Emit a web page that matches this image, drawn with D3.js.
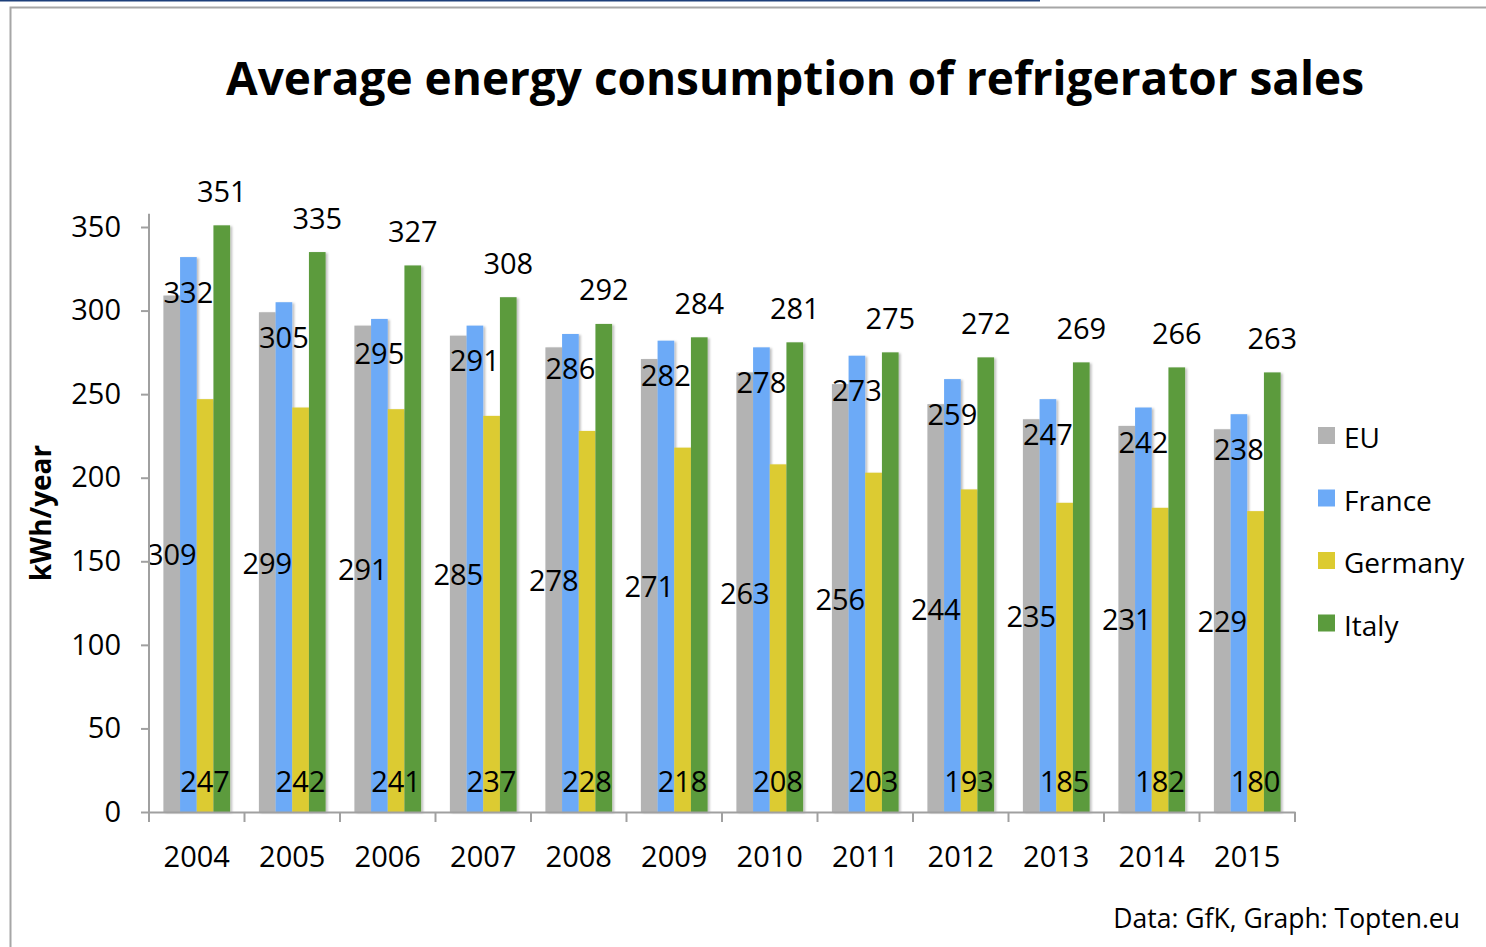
<!DOCTYPE html>
<html>
<head>
<meta charset="utf-8">
<script src="https://cdn.jsdelivr.net/npm/d3@7"></script>
<style>
  body { margin: 0; background: #fff; }
  text { font-family: "Open Sans", "Noto Sans", sans-serif; fill: #000; }
</style>
</head>
<body>
<div id="chart"></div>
<script>

// data
const years = ["2004", "2005", "2006", "2007", "2008", "2009", "2010", "2011", "2012", "2013", "2014", "2015"];
const seriesNames = ["EU", "France", "Germany", "Italy"];
const eu      = [309, 299, 291, 285, 278, 271, 263, 256, 244, 235, 231, 229];
const france  = [332, 305, 295, 291, 286, 282, 278, 273, 259, 247, 242, 238];
const germany = [247, 242, 241, 237, 228, 218, 208, 203, 193, 185, 182, 180];
const italy   = [351, 335, 327, 308, 292, 284, 281, 275, 272, 269, 266, 263];
const yTicks  = [0, 50, 100, 150, 200, 250, 300, 350];
const colors  = ["#b3b3b3", "#6caaf7", "#dccb30", "#5b9b3d"];

const W = 1486, H = 947;
const margin = { top: 227, right: 191, bottom: 135, left: 149 };
const width = W - margin.left - margin.right,
  height = H - margin.top - margin.bottom;

const svg = d3.select("#chart").append("svg")
  .attr("width", W)
  .attr("height", H);

// frame
svg.append("line")
  .attr("x1", 0).attr("x2", 1040).attr("y1", 0.75).attr("y2", 0.75)
  .attr("stroke", "#1d3f7a").attr("stroke-width", 1.5);
svg.append("path")
  .attr("d", "M10.5," + H + "V7.5H" + W)
  .attr("fill", "none")
  .attr("stroke", "#a6a6a6")
  .attr("stroke-width", 2);

// drop shadow for bars
const defs = svg.append("defs");
defs.append("filter")
  .attr("id", "shadow")
  .attr("x", "-30%").attr("y", "-5%").attr("width", "160%").attr("height", "110%")
  .append("feDropShadow")
  .attr("dx", 2).attr("dy", 1)
  .attr("stdDeviation", 1.3)
  .attr("flood-color", "#000")
  .attr("flood-opacity", 0.25);

const g = svg.append("g")
  .attr("transform", "translate(" + margin.left + "," + margin.top + ")");

// scales
const x = d3.scaleBand()
  .domain(years)
  .range([0, width])
  .paddingInner(0)
  .paddingOuter(0);

const xSub = d3.scaleBand()
  .domain(seriesNames)
  .range([14.4, x.bandwidth() - 14.4]);

const y = d3.scaleLinear()
  .domain([0, 350])
  .range([height, 0]);

const table = years.map((yr, i) => ({
  year: yr,
  values: [eu[i], france[i], germany[i], italy[i]]
}));

// title
svg.append("text")
  .attr("x", 795)
  .attr("y", 77)
  .attr("text-anchor", "middle")
  .attr("dominant-baseline", "central")
  .attr("font-weight", "bold")
  .attr("font-size", 47)
  .attr("textLength", 1138)
  .attr("lengthAdjust", "spacingAndGlyphs")
  .text("Average energy consumption of refrigerator sales");

// bars
const groups = g.selectAll(".year")
  .data(table)
  .enter().append("g")
  .attr("class", "year")
  .attr("transform", d => "translate(" + x(d.year) + ",0)");

groups.selectAll("rect")
  .data(d => d.values.map((v, k) => ({ name: seriesNames[k], value: v, k: k })))
  .enter().append("rect")
  .attr("x", d => xSub(d.name))
  .attr("width", xSub.bandwidth())
  .attr("y", d => y(d.value))
  .attr("height", d => height - y(d.value))
  .attr("fill", d => colors[d.k])
  .attr("filter", "url(#shadow)");

// axes
const yAxis = d3.axisLeft(y)
  .tickValues(yTicks)
  .tickSize(8)
  .tickPadding(20);

const yAxisG = g.append("g").attr("class", "y-axis").call(yAxis);
yAxisG.select(".domain").remove();
yAxisG.append("line")
  .attr("x1", 0).attr("x2", 0)
  .attr("y1", y(358)).attr("y2", height)
  .attr("stroke", "#a0a0a0").attr("stroke-width", 2);
yAxisG.selectAll(".tick line").attr("stroke", "#a0a0a0").attr("stroke-width", 2);
yAxisG.selectAll(".tick text")
  .attr("font-size", 29)
  .attr("font-family", "Open Sans")
  .attr("fill", "#000");

const xAxis = d3.axisBottom(x)
  .tickSize(0)
  .tickPadding(34);

const xAxisG = g.append("g")
  .attr("class", "x-axis")
  .attr("transform", "translate(0," + height + ")")
  .call(xAxis);
xAxisG.select(".domain").attr("stroke", "#a0a0a0").attr("stroke-width", 2);
xAxisG.selectAll(".tick text")
  .attr("font-size", 29)
  .attr("font-family", "Open Sans")
  .attr("fill", "#000");

// category boundary ticks
xAxisG.selectAll(".bound")
  .data(d3.range(years.length + 1))
  .enter().append("line")
  .attr("class", "bound")
  .attr("x1", i => i * x.step())
  .attr("x2", i => i * x.step())
  .attr("y1", 0).attr("y2", 10)
  .attr("stroke", "#a0a0a0").attr("stroke-width", 2);

// y axis title
svg.append("text")
  .attr("transform", "translate(40,513) rotate(-90)")
  .attr("text-anchor", "middle")
  .attr("dominant-baseline", "central")
  .attr("font-weight", "bold")
  .attr("font-size", 28)
  .text("kWh/year");

// data labels
const labelG = groups.append("g").attr("class", "labels");
labelG.selectAll("text")
  .data(d => d.values.map((v, k) => ({ name: seriesNames[k], value: v, k: k })))
  .enter().append("text")
  .attr("text-anchor", "middle")
  .attr("dominant-baseline", "central")
  .attr("font-size", 29)
  .attr("x", d => xSub(d.name) + xSub.bandwidth() / 2)
  .attr("y", d => {
    if (d.k === 0) return (y(d.value) + height) / 2;   // centre
    if (d.k === 1) return y(d.value) + 34;             // inside end
    if (d.k === 2) return height - 32;                 // inside base
    return y(d.value) - 35;                            // outside end
  })
  .text(d => d.value);

// legend
const legend = svg.append("g")
  .attr("transform", "translate(1318,437)");

const item = legend.selectAll(".item")
  .data(seriesNames)
  .enter().append("g")
  .attr("class", "item")
  .attr("transform", (d, i) => "translate(0," + (i * 62.5) + ")");

item.append("rect")
  .attr("x", 0).attr("y", -10)
  .attr("width", 17).attr("height", 17)
  .attr("fill", (d, i) => colors[i]);

item.append("text")
  .attr("x", 26)
  .attr("y", 0)
  .attr("dominant-baseline", "central")
  .attr("font-size", 28)
  .text(d => d);

// source
svg.append("text")
  .attr("x", 1460)
  .attr("y", 918)
  .attr("text-anchor", "end")
  .attr("dominant-baseline", "central")
  .attr("font-size", 26.5)
  .text("Data: GfK, Graph: Topten.eu");

</script>
</body>
</html>
